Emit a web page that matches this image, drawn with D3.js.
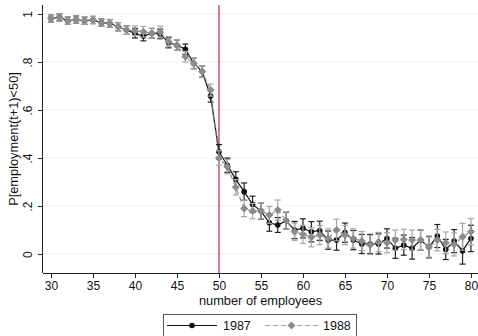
<!DOCTYPE html>
<html>
<head>
<meta charset="utf-8">
<script src="https://cdn.jsdelivr.net/npm/d3@7"></script>
<style>
  body { margin: 0; background: #fff; }
  svg { display: block; font-family: "Liberation Sans", Arial, sans-serif; }
</style>
</head>
<body>
<div id="chart"></div>
<script>
// data
const employees = d3.range(30, 81)
const p1987 = [0.982, 0.986, 0.972, 0.977, 0.972, 0.975, 0.964, 0.961, 0.947, 0.933,
               0.920, 0.908, 0.920, 0.917, 0.880, 0.870, 0.853, 0.794, 0.760, 0.658,
               0.426, 0.370, 0.311, 0.260, 0.207, 0.179, 0.130, 0.121, 0.139, 0.100,
               0.107, 0.093, 0.097, 0.058, 0.058, 0.089, 0.058, 0.042, 0.042, 0.042,
               0.065, 0.024, 0.037, 0.024, 0.058, 0.029, 0.075, 0.019, 0.054, 0.014,
               0.065]
const ci1987 = [0.015, 0.015, 0.015, 0.015, 0.015, 0.015, 0.015, 0.016, 0.017, 0.018,
                0.020, 0.020, 0.020, 0.020, 0.021, 0.021, 0.022, 0.022, 0.023, 0.025,
                0.030, 0.030, 0.032, 0.036, 0.034, 0.034, 0.035, 0.031, 0.035, 0.036,
                0.040, 0.042, 0.040, 0.038, 0.042, 0.040, 0.040, 0.040, 0.040, 0.042,
                0.040, 0.042, 0.042, 0.045, 0.042, 0.045, 0.048, 0.042, 0.048, 0.056,
                0.055]
const p1988 = [0.982, 0.986, 0.972, 0.977, 0.972, 0.975, 0.964, 0.961, 0.947, 0.933,
               0.930, 0.926, 0.920, 0.925, 0.885, 0.870, 0.822, 0.794, 0.760, 0.683,
               0.400, 0.364, 0.278, 0.190, 0.179, 0.180, 0.163, 0.183, 0.139, 0.093,
               0.082, 0.070, 0.079, 0.065, 0.100, 0.079, 0.065, 0.054, 0.038, 0.050,
               0.047, 0.058, 0.061, 0.058, 0.058, 0.029, 0.058, 0.047, 0.040, 0.072,
               0.093]
const ci1988 = [0.015, 0.015, 0.015, 0.015, 0.015, 0.015, 0.015, 0.016, 0.017, 0.018,
                0.020, 0.022, 0.020, 0.024, 0.021, 0.021, 0.022, 0.022, 0.023, 0.025,
                0.030, 0.030, 0.032, 0.034, 0.032, 0.034, 0.035, 0.042, 0.036, 0.036,
                0.038, 0.040, 0.040, 0.040, 0.045, 0.040, 0.040, 0.040, 0.040, 0.040,
                0.042, 0.042, 0.042, 0.042, 0.042, 0.042, 0.045, 0.045, 0.048, 0.056,
                0.055]
const xTicks = [30, 35, 40, 45, 50, 55, 60, 65, 70, 75, 80]
const yTicks = [0, 0.2, 0.4, 0.6, 0.8, 1]
const cutoff = 50

const width = 478, height = 336
const plot = {left: 43, right: 478, top: 5, bottom: 273}

const svg = d3.select('#chart').append('svg')
    .attr('width', width)
    .attr('height', height)

const x = d3.scaleLinear().domain([29.05, 80.84]).range([plot.left, plot.right])
const y = d3.scaleLinear().domain([-0.079, 1.0375]).range([plot.bottom, plot.top])

// grid
svg.append('g').selectAll('line')
    .data(yTicks)
    .enter().append('line')
        .attr('x1', plot.left).attr('x2', plot.right)
        .attr('y1', d => y(d)).attr('y2', d => y(d))
        .attr('stroke', '#eaf2f3')
        .attr('stroke-width', 1)

// axes
const fmtY = d => d === 0 ? '0' : d === 1 ? '1' : ('' + d3.format('.1f')(d)).replace(/^0/, '')

const xAxisGroup = svg.append('g')
    .attr('transform', `translate(0, ${plot.bottom})`)
    .call(d3.axisBottom(x).tickValues(xTicks).tickSize(5).tickPadding(3).tickSizeOuter(0))
const yAxisGroup = svg.append('g')
    .attr('transform', `translate(${plot.left}, 0)`)
    .call(d3.axisLeft(y).tickValues(yTicks).tickFormat(fmtY).tickSize(5).tickSizeOuter(0))

xAxisGroup.select('.domain').attr('stroke', '#222').attr('d', `M${plot.left},0.5H${plot.right}`)
yAxisGroup.select('.domain').attr('stroke', '#222').attr('d', `M-0.5,${plot.top}V${plot.bottom}`)
svg.selectAll('.tick line').attr('stroke', '#222')
xAxisGroup.selectAll('text')
    .attr('font-size', 12)
    .attr('fill', '#111')
yAxisGroup.selectAll('text')
    .attr('font-size', 12)
    .attr('fill', '#111')
    .attr('text-anchor', 'middle')
    .attr('transform', 'rotate(-90)')
    .attr('x', 0)
    .attr('y', -11.5)
    .attr('dy', 0)

svg.append('text')
    .attr('x', (plot.left + plot.right) / 2)
    .attr('y', 305)
    .attr('text-anchor', 'middle')
    .attr('font-size', 12.8)
    .attr('fill', '#111')
    .text('number of employees')

svg.append('text')
    .attr('transform', `translate(18, ${(plot.top + plot.bottom) / 2}) rotate(-90)`)
    .attr('text-anchor', 'middle')
    .attr('font-size', 12.8)
    .attr('fill', '#111')
    .text('P[employment(t+1)<50]')

// cutoff
svg.append('line')
    .attr('x1', x(cutoff)).attr('x2', x(cutoff))
    .attr('y1', plot.top).attr('y2', plot.bottom)
    .attr('stroke', '#b5284f')
    .attr('stroke-width', 1.2)

const series = [
    {name: '1987', values: p1987, ci: ci1987, color: '#111', barColor: '#222', dash: null, marker: 'circle'},
    {name: '1988', values: p1988, ci: ci1988, color: '#8c8c8c', barColor: '#a6a6a6', dash: '5,3', marker: 'diamond'}
]

const line = d3.line()
    .x((d, i) => x(employees[i]))
    .y(d => y(d))

const drawMarker = (g, s, cx, cy) => {
    if (s.marker === 'circle') {
        g.append('circle').attr('cx', cx).attr('cy', cy).attr('r', 2.8).attr('fill', s.color)
    } else {
        const r = 4
        g.append('path')
            .attr('d', `M${cx},${cy - r}L${cx + r},${cy}L${cx},${cy + r}L${cx - r},${cy}Z`)
            .attr('fill', s.color)
    }
}

series.forEach(s => {
    const g = svg.append('g')
    // error bars
    const bars = g.append('g')
        .attr('stroke', s.barColor)
        .attr('stroke-width', 1.2)
    s.values.forEach((v, i) => {
        const cx = x(employees[i])
        const lo = y(v - s.ci[i]), hi = y(v + s.ci[i])
        bars.append('line').attr('x1', cx).attr('x2', cx).attr('y1', lo).attr('y2', hi)
        bars.append('line').attr('x1', cx - 3).attr('x2', cx + 3).attr('y1', lo).attr('y2', lo)
        bars.append('line').attr('x1', cx - 3).attr('x2', cx + 3).attr('y1', hi).attr('y2', hi)
    })
    g.append('path')
        .datum(s.values)
        .attr('fill', 'none')
        .attr('stroke', s.color)
        .attr('stroke-width', 1.2)
        .attr('stroke-dasharray', s.dash)
        .attr('d', line)
    s.values.forEach((v, i) => drawMarker(g, s, x(employees[i]), y(v)))
})

// legend
const legend = svg.append('g')
legend.append('rect')
    .attr('x', 163.5).attr('y', 314.5)
    .attr('width', 193).attr('height', 30)
    .attr('fill', '#fff')
    .attr('stroke', '#555')
    .attr('stroke-width', 1)

const legendItems = [
    {s: series[0], x0: 167, x1: 217, tx: 223},
    {s: series[1], x0: 265, x1: 318, tx: 323}
]
legendItems.forEach(item => {
    const ly = 325.5
    legend.append('line')
        .attr('x1', item.x0).attr('x2', item.x1)
        .attr('y1', ly).attr('y2', ly)
        .attr('stroke', item.s.color === '#111' ? '#111' : '#a6a6a6')
        .attr('stroke-width', 1.2)
        .attr('stroke-dasharray', item.s.dash)
    drawMarker(legend, item.s, (item.x0 + item.x1) / 2, ly)
    legend.append('text')
        .attr('x', item.tx)
        .attr('y', ly + 4.5)
        .attr('font-size', 12.5)
        .attr('fill', '#111')
        .text(item.s.name)
})
</script>
</body>
</html>
